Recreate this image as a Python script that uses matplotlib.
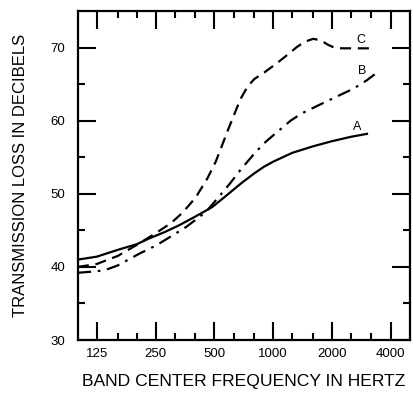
import matplotlib
matplotlib.use('Agg')
import matplotlib.pyplot as plt
from matplotlib.ticker import FixedLocator, NullFormatter

plt.rcParams['font.family'] = ['Liberation Sans', 'DejaVu Sans']

# Curve A (solid) - frequency (Hz) and transmission loss (dB)
freq_a = [100, 125, 163, 200, 232, 280, 330, 400, 488, 560, 690, 800, 896, 1000, 1250, 1600, 2000, 2500, 3017]
loss_a = [41.0, 41.4, 42.4, 43.1, 43.9, 44.8, 45.7, 46.9, 48.2, 49.5, 51.5, 52.8, 53.7, 54.4, 55.6, 56.5, 57.2, 57.8, 58.2]

# Curve B (dash-dot)
freq_b = [100, 125, 139, 160, 206, 250, 305, 360, 451, 520, 600, 681, 800, 896, 1000, 1226, 1400, 1613, 2000, 2580, 3000, 3326]
loss_b = [39.2, 39.4, 39.6, 40.2, 41.8, 42.9, 44.3, 45.5, 47.5, 49.4, 51.4, 53.3, 55.5, 56.9, 58.0, 60.0, 61.0, 61.8, 63.0, 64.4, 65.5, 66.4]

# Curve C (dashed)
freq_c = [100, 125, 160, 200, 250, 300, 343, 401, 460, 508, 582, 630, 681, 740, 800, 900, 1048, 1180, 1324, 1450, 1600, 1750, 1900, 2050, 2250, 3150]
loss_c = [40.0, 40.4, 41.5, 43.0, 44.6, 46.0, 47.4, 49.5, 52.1, 54.4, 58.5, 60.8, 63.0, 64.7, 65.7, 66.6, 67.9, 69.0, 70.1, 70.8, 71.2, 71.0, 70.4, 70.0, 69.9, 69.9]

# Axis ticks
major_freq = [125, 250, 500, 1000, 2000, 4000]
major_labels = ['125', '250', '500', '1000', '2000', '4000']
minor_freq = [160, 200, 315, 400, 630, 800, 1250, 1600, 2500, 3150]
major_db = [30, 40, 50, 60, 70]
minor_db = [35, 45, 55, 65]

# Curve labels
curve_names = ['A', 'B', 'C']
label_freq = [2690, 2850, 2800]
label_db = [59.2, 66.8, 71.1]

fig = plt.figure(figsize=(4.14, 3.94), dpi=100)
ax = fig.add_axes([0.188, 0.137, 0.802, 0.835])

lw = 1.6
ax.plot(freq_a, loss_a, color='black', lw=lw, ls='-')
ax.plot(freq_b, loss_b, color='black', lw=lw, dashes=(6, 3, 1.2, 3))
ax.plot(freq_c, loss_c, color='black', lw=lw, dashes=(5, 3))

for name, fx, dy in zip(curve_names, label_freq, label_db):
    ax.text(fx, dy, name, fontsize=9, ha='center', va='center')

ax.set_xscale('log')
ax.set_xlim(100, 5000)
ax.set_ylim(30, 75)

ax.xaxis.set_major_locator(FixedLocator(major_freq))
ax.xaxis.set_minor_locator(FixedLocator(minor_freq))
ax.set_xticklabels(major_labels)
ax.xaxis.set_minor_formatter(NullFormatter())
ax.yaxis.set_major_locator(FixedLocator(major_db))
ax.yaxis.set_minor_locator(FixedLocator(minor_db))

ax.tick_params(which='both', direction='in', top=True, right=True, width=1.5, labelsize=9.5)
ax.tick_params(which='major', length=13)
ax.tick_params(which='minor', length=5)
ax.tick_params(axis='x', which='major', pad=5.5)
ax.tick_params(axis='y', which='major', pad=9)

for s in ax.spines.values():
    s.set_linewidth(1.6)

ax.set_xlabel('BAND CENTER FREQUENCY IN HERTZ', fontsize=12.6, labelpad=10)
ax.set_ylabel('TRANSMISSION LOSS IN DECIBELS', fontsize=12, labelpad=16)

fig.savefig('out.png', dpi=100)
